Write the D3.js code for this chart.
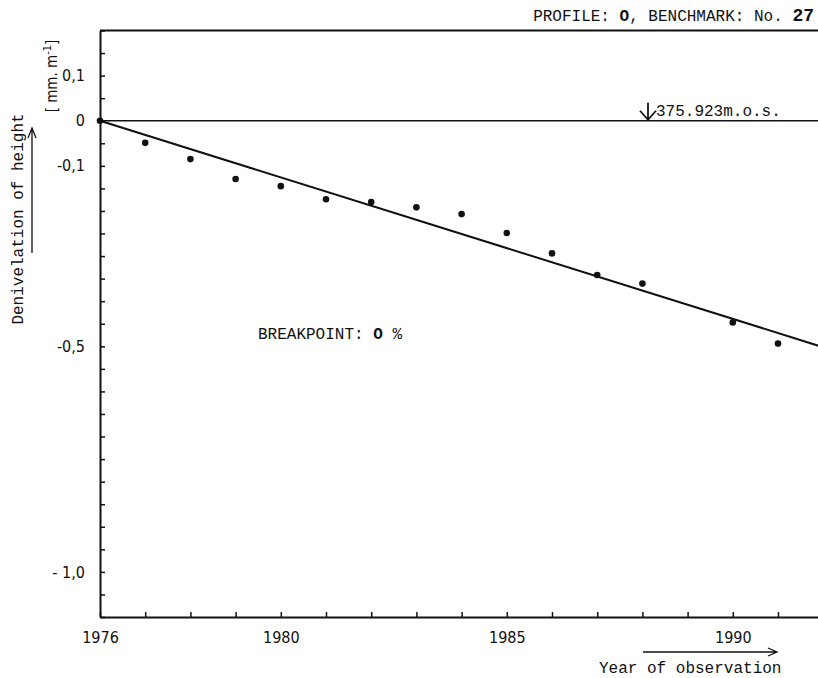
<!DOCTYPE html>
<html>
<head>
<meta charset="utf-8">
<script src="https://cdn.jsdelivr.net/npm/d3@7"></script>
<style>
  body { margin: 0; background: #fff; }
  .mono { font-family: "Liberation Mono", "DejaVu Sans Mono", monospace; }
  .tick text { font-family: "Liberation Sans Narrow", "DejaVu Sans Condensed", "Liberation Sans", sans-serif; font-size: 16px; fill: #111; }
</style>
</head>
<body>
<div id="chart"></div>
<script>
// observed points
var years = [1976, 1977, 1978, 1979, 1980, 1981, 1982, 1983, 1984, 1985, 1986, 1987, 1988, 1990, 1991];
var values = [0, -0.049, -0.085, -0.129, -0.145, -0.174, -0.180, -0.192, -0.207, -0.249, -0.294, -0.342, -0.361, -0.447, -0.494];

// fitted line
var lineYears = [1976, 1992];
var lineValues = [0, -0.502];

// tick labels
var xTickValues = [1976, 1980, 1985, 1990];
var xTickLabels = ["1976", "1980", "1985", "1990"];
var yTickValues = [0.1, 0, -0.1, -0.5, -1.0];
var yTickLabels = ["0,1", "0", "-0,1", "-0,5", "- 1,0"];

var width = 818, height = 678;
var svg = d3.select("#chart").append("svg")
    .attr("width", width)
    .attr("height", height);

var x = d3.scaleLinear().domain([1976, 1992]).range([100, 823.2]);
var y = d3.scaleLinear().domain([-1.1, 0.2]).range([617, 30.5]);

// minor ticks every year / every 0.05
var xMinor = d3.range(1976, 1993, 1);
var yMinor = d3.range(-1.1, 0.2001, 0.05).map(function(v) { return Math.round(v * 100) / 100; });

function labelFor(d, vals, labels) {
    for (var i = 0; i < vals.length; i++) {
        if (Math.abs(d - vals[i]) < 1e-9) return labels[i];
    }
    return "";
}

var xAxis = d3.axisBottom(x)
    .tickValues(xMinor)
    .tickSizeInner(-5)
    .tickSizeOuter(0)
    .tickPadding(15)
    .tickFormat(function(d) { return labelFor(d, xTickValues, xTickLabels); });

var yAxis = d3.axisLeft(y)
    .tickValues(yMinor)
    .tickSizeInner(-5)
    .tickSizeOuter(0)
    .tickPadding(15)
    .tickFormat(function(d) { return labelFor(d, yTickValues, yTickLabels); });

var gx = svg.append("g").attr("transform", "translate(0," + y(-1.1) + ")").call(xAxis);
var gy = svg.append("g").attr("transform", "translate(" + x(1976) + ",0)").call(yAxis);

[gx, gy].forEach(function(g) {
    g.select(".domain").attr("stroke", "#111").attr("stroke-width", 2);
    g.selectAll(".tick line").attr("stroke", "#111").attr("stroke-width", 1.5);
});

// top border
svg.append("line")
    .attr("x1", x(1976)).attr("x2", width)
    .attr("y1", y(0.2)).attr("y2", y(0.2))
    .attr("stroke", "#111").attr("stroke-width", 2);

// reference level
svg.append("line")
    .attr("x1", x(1976)).attr("x2", width)
    .attr("y1", y(0)).attr("y2", y(0))
    .attr("stroke", "#111").attr("stroke-width", 1.4);

// regression line
var line = d3.line()
    .x(function(d) { return x(d[0]); })
    .y(function(d) { return y(d[1]); });

svg.append("path")
    .datum(d3.zip(lineYears, lineValues))
    .attr("d", line)
    .attr("fill", "none")
    .attr("stroke", "#111")
    .attr("stroke-width", 2);

// points
svg.selectAll("circle.pt")
    .data(d3.zip(years, values))
    .enter().append("circle")
    .attr("class", "pt")
    .attr("cx", function(d) { return x(d[0]); })
    .attr("cy", function(d) { return y(d[1]); })
    .attr("r", 3.3)
    .attr("fill", "#111");

// title
var title = svg.append("text").attr("class", "mono")
    .attr("x", 814).attr("y", 21)
    .attr("text-anchor", "end")
    .attr("font-size", 16).attr("fill", "#111");
title.append("tspan").text("PROFILE: ");
title.append("tspan").attr("font-weight", "bold").text("O");
title.append("tspan").text(", BENCHMARK: No. ");
title.append("tspan").attr("font-weight", "bold").attr("font-size", 18).text("27");

// benchmark height marker
var ax = 648;
svg.append("path")
    .attr("d", "M" + ax + "," + (y(0) - 18) + "V" + (y(0) - 1) +
        "M" + (ax - 8) + "," + (y(0) - 10) + "L" + ax + "," + (y(0) - 1) + "L" + (ax + 8) + "," + (y(0) - 10))
    .attr("fill", "none").attr("stroke", "#111").attr("stroke-width", 1.8);
svg.append("text").attr("class", "mono")
    .attr("x", 656).attr("y", y(0) - 4.5)
    .attr("font-size", 16).attr("fill", "#111")
    .text("375.923m.o.s.");

// breakpoint
var bp = svg.append("text").attr("class", "mono")
    .attr("x", 258).attr("y", 339)
    .attr("font-size", 16).attr("fill", "#111");
bp.append("tspan").text("BREAKPOINT: ");
bp.append("tspan").attr("font-weight", "bold").text("O");
bp.append("tspan").text(" %");

// y axis title
svg.append("text").attr("class", "mono")
    .attr("transform", "translate(23,219) rotate(-90)")
    .attr("text-anchor", "middle")
    .attr("font-size", 16).attr("fill", "#111")
    .text("Denivelation of height");

svg.append("path")
    .attr("d", "M32,253V129M28,138L32,128L36,138")
    .attr("fill", "none").attr("stroke", "#111").attr("stroke-width", 1.3);

var unit = svg.append("text")
    .attr("transform", "translate(57,76) rotate(-90)")
    .attr("text-anchor", "middle")
    .attr("font-family", "Liberation Sans Narrow, DejaVu Sans Condensed, sans-serif")
    .attr("font-size", 15).attr("fill", "#111");
unit.append("tspan").text("[ mm. m");
unit.append("tspan").attr("dy", -6).attr("font-size", 11).text("-1");
unit.append("tspan").attr("dy", 6).text("]");

// x axis title
svg.append("path")
    .attr("d", "M643,652H777M768,648L777,652L768,656")
    .attr("fill", "none").attr("stroke", "#111").attr("stroke-width", 1.3);
svg.append("text").attr("class", "mono")
    .attr("x", 599).attr("y", 673)
    .attr("font-size", 16).attr("fill", "#111")
    .text("Year of observation");
</script>
</body>
</html>
